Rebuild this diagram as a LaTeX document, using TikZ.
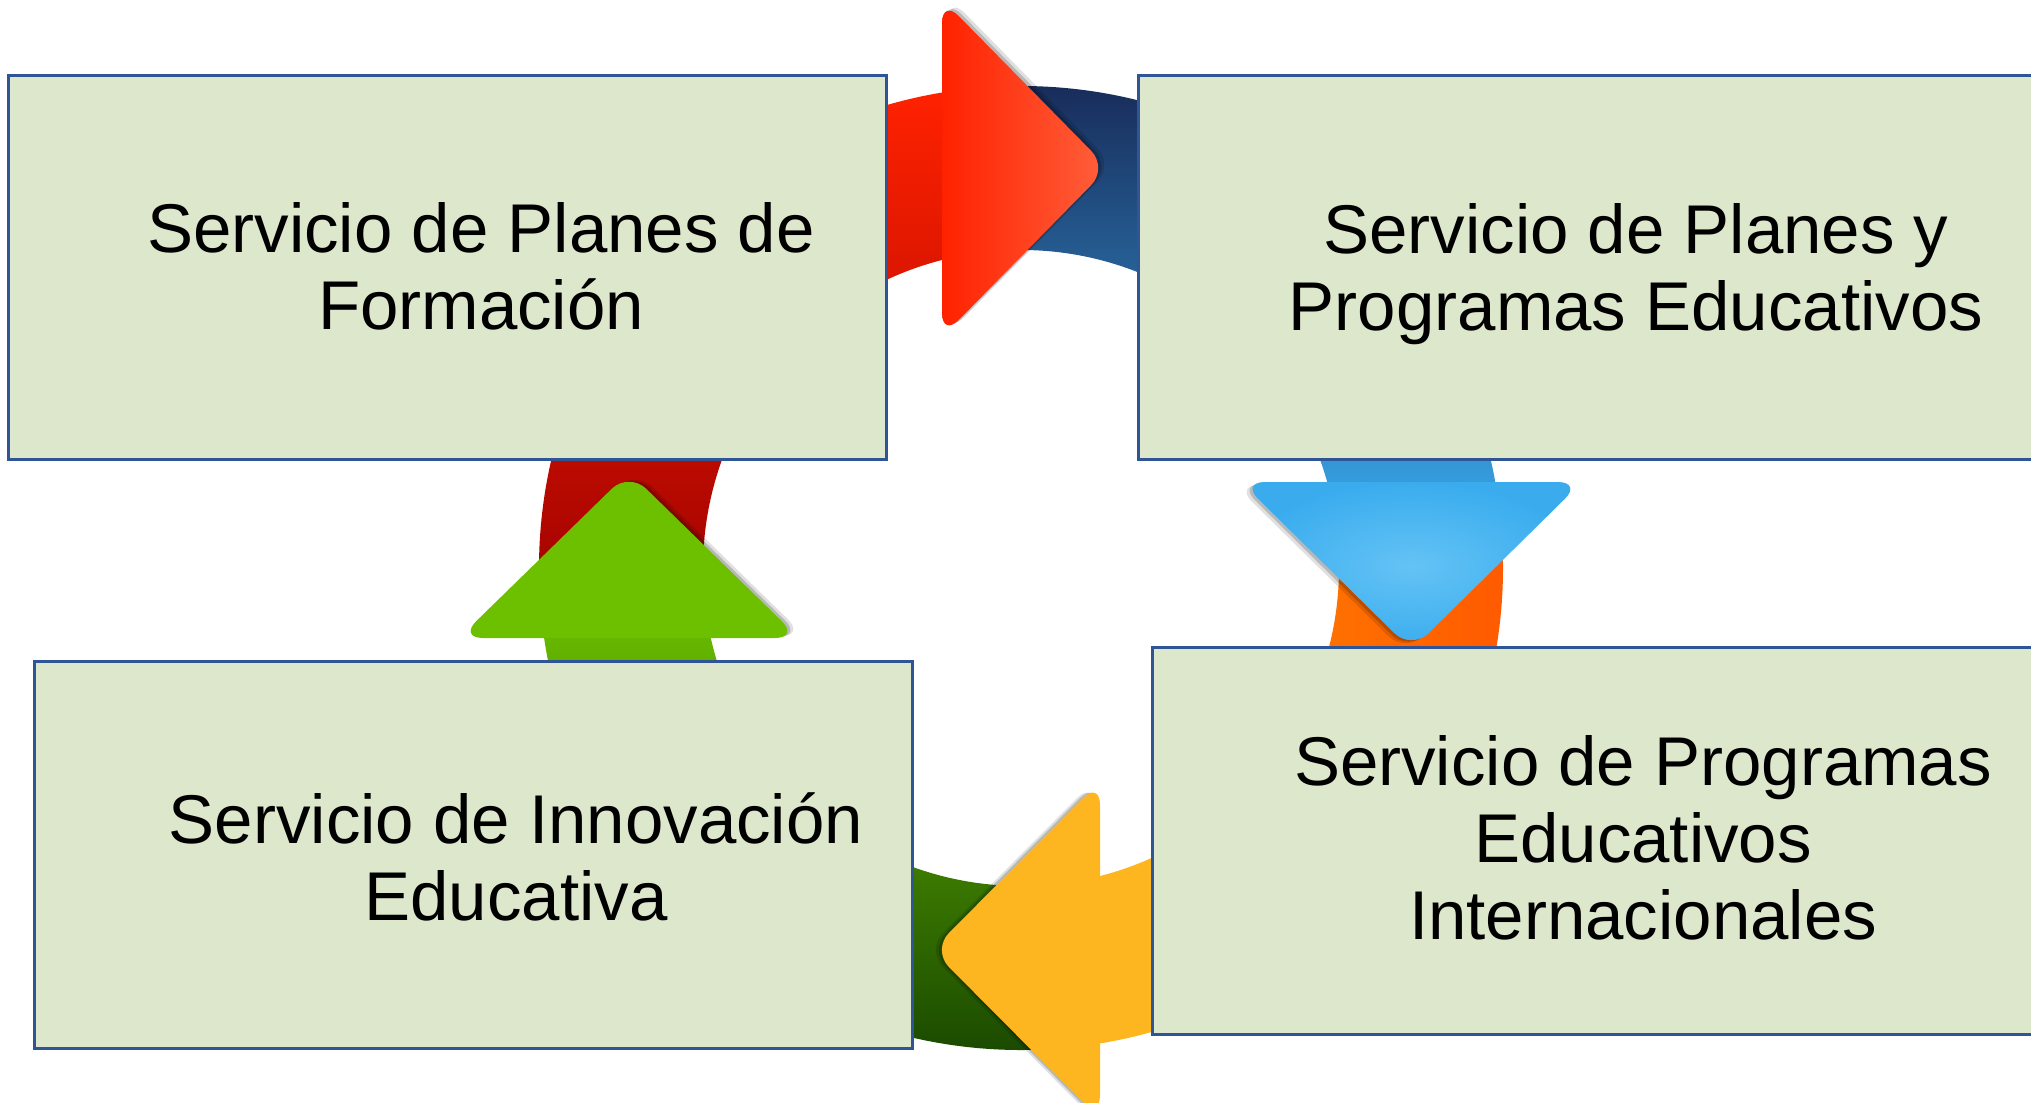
\documentclass[tikz,border=0pt]{standalone}
\usepackage		 {fontspec}
\setmainfont{Liberation Sans}
\usepackage		 {xcolor   }
\usepackage		 {tikz	  }

\definecolor{boxfill}{RGB}{221,231,203}
\definecolor{boxline}{RGB}{47,85,151}
\definecolor{redtail}{RGB}{155,0,0}
\definecolor{redhead}{RGB}{255,34,0}
\definecolor{redtip}{RGB}{255,96,60}
\definecolor{navytail}{RGB}{24,42,88}
\definecolor{navymid}{RGB}{30,110,176}
\definecolor{bluehead}{RGB}{58,172,238}
\definecolor{bluelight}{RGB}{100,195,245}
\definecolor{orangetail}{RGB}{255,88,0}
\definecolor{orangemid}{RGB}{255,124,0}
\definecolor{yellowhead}{RGB}{253,181,32}
\definecolor{greentail}{RGB}{24,70,0}
\definecolor{greenhead}{RGB}{108,192,0}

\begin{document}
\begin{tikzpicture}[x=0.5pt,y=-0.5pt]
  \tikzset{ box/.style={rectangle,draw=boxline,fill=boxfill,line width=1.5pt,inner sep=0pt,outer sep=0pt},
    txt/.style={align=center,inner sep=0pt,font=\fontsize{34.5}{38.5}\selectfont},
    hshadow/.style 2 args={preaction={fill=black,opacity=0.12,transform canvas={shift={(#1,#2)}}},
      preaction={fill=black,opacity=0.18,transform canvas={shift={(#1/2,#2/2)}}}},
    head/.style={rounded corners=12pt},
  }
  \useasboundingbox (0,0) rectangle (2031,1103);
  \clip (0,0) rectangle (2031,1103);

  % the ring behind the boxes
  \begin{scope}[shift={(1021,568)}]
    \shade[top color=redhead,bottom color=redtail] (172:482) arc[start angle=172,end angle=265,radius=482] -- (265:318) arc[start angle=265,end angle=172,radius=318] -- cycle;
    \shade[top color=navytail,middle color=navymid,bottom color=bluehead] (268:482) arc[start angle=268,end angle=355,radius=482] -- (355:318) arc[start angle=355,end angle=268,radius=318] -- cycle;
    \shade[left color=orangemid,right color=orangetail] (-8:482) arc[start angle=-8,end angle=46,radius=482] -- (46:318) arc[start angle=46,end angle=-8,radius=318] -- cycle;
    \fill[yellowhead] (45:482) arc[start angle=45,end angle=85,radius=482] -- (85:318) arc[start angle=85,end angle=45,radius=318] -- cycle;
    \shade[top color=greenhead,bottom color=greentail] (83:482) arc[start angle=83,end angle=174,radius=482] -- (174:318) arc[start angle=174,end angle=83,radius=318] -- cycle;
  \end{scope}

  % the four boxes
  \node[box,minimum width=439pt,minimum height=192pt] (b1) at (447,267) {};
  \node[box,minimum width=453.5pt,minimum height=192pt] (b2) at (1591.5,267) {};
  \node[box,minimum width=439pt,minimum height=193.5pt] (b3) at (473,854.5) {};
  \node[box,minimum width=446.5pt,minimum height=193.5pt] (b4) at (1598.5,840.5) {};

  \node[txt] (t1) at (481,266.5) {Servicio de Planes de\\Formación};
  \node[txt] (t2) at (1636,274) {Servicio de Planes y\\Programas Educativos};
  \node[txt] (t3) at (516,856.5) {Servicio de Innovación\\Educativa};
  \node[txt] (t4) at (1643,838) {Servicio de Programas\\Educativos\\Internacionales};

  % arrow heads
  \shade[head,hshadow={6}{-3},left color=redhead,right color=redtip] (942,-1) -- (1108,168) -- (942,337) -- cycle;
  \shade[head,hshadow={-6}{3},inner color=bluelight,outer color=bluehead] (1241,482) -- (1582,482) -- (1411.5,650) -- cycle;
  \fill[head,hshadow={-6}{0},yellowhead] (1100,781) -- (1100,1119) -- (932,950) -- cycle;
  \fill[head,hshadow={6}{-2},greenhead] (459,638) -- (799,638) -- (629,472) -- cycle;
\end{tikzpicture}
\end{document}
